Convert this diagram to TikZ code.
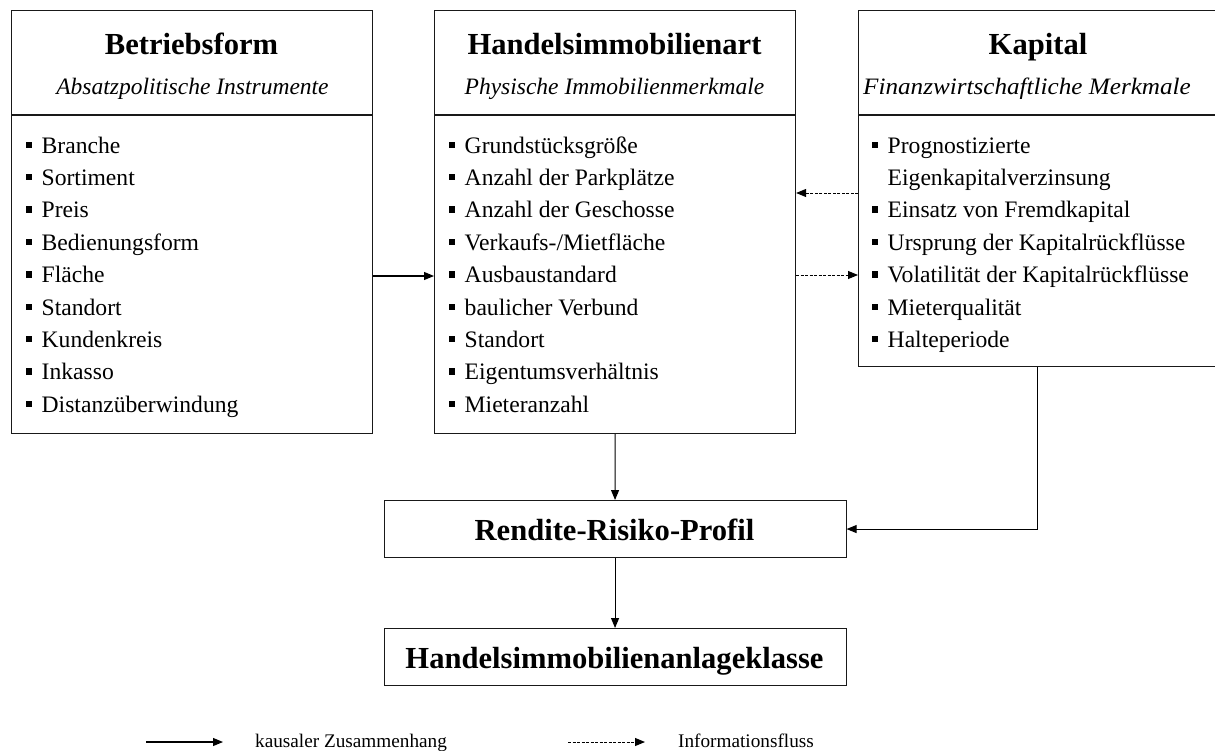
\documentclass[tikz,border=0pt]{standalone}
\usepackage{fontspec}
\setmainfont{Liberation Serif}
\usetikzlibrary{arrows.meta}
\newcommand{\sqb}{\rule[5bp]{6.5bp}{6.5bp}\hspace{9.5bp}}
\tikzset{
 frame/.style={draw=black!90, line width=1.1bp, inner sep=0, anchor=north west},
 divline/.style={draw=black!90, line width=1.1bp},
 ttl/.style={font=\fontsize{30.7}{36}\selectfont\bfseries, anchor=base, inner sep=0},
 sub/.style={font=\fontsize{23.6}{28}\selectfont\itshape, anchor=base, inner sep=0},
 itm/.style={font=\fontsize{23.7}{28}\selectfont, anchor=base west, inner sep=0},
 leg/.style={font=\fontsize{19.3}{23}\selectfont, anchor=base west, inner sep=0},
 causal/.style={line width=1.1bp, -{Triangle[length=10bp,width=8bp]}},
 info/.style={line width=1bp, dash pattern=on 3bp off 1.5bp, -{Triangle[length=10bp,width=8bp]}},
}
\begin{document}
\begin{tikzpicture}[x=1bp,y=-1bp]
\useasboundingbox (0,0) rectangle (1215,751);
% frames
\node[frame, minimum width=361bp, minimum height=423bp] (bf) at (11,10) {};
\node[frame, minimum width=361bp, minimum height=423bp] (ha) at (434,10) {};
\node[frame, minimum width=358bp, minimum height=356bp] (kap) at (858,10) {};
\node[frame, minimum width=462bp, minimum height=57bp] (rrp) at (383.5,500) {};
\node[frame, minimum width=462bp, minimum height=57bp] (hak) at (383.5,628) {};
% header dividers
\draw[divline] (bf.west |- 0,115) -- (bf.east |- 0,115);
\draw[divline] (ha.west |- 0,115) -- (ha.east |- 0,115);
\draw[divline] (kap.west |- 0,115) -- (kap.east |- 0,115);
% titles
\node[ttl] (bft) at (191.5,55) {Betriebsform};
\node[sub] (bfs) at (192.5,95) {Absatzpolitische Instrumente};
\node[ttl] (hat) at (614.5,55) {Handelsimmobilienart};
\node[sub] (has) at (614.5,95) {Physische Immobilienmerkmale};
\node[ttl] (kat) at (1038,55) {Kapital};
\node[sub] (kas) at (1027,95) {\scalebox{1.07}[1]{Finanzwirtschaftliche Merkmale}};
% items
\foreach \t [count=\i] in {Branche,Sortiment,Preis,Bedienungsform,Fläche,Standort,Kundenkreis,Inkasso,Distanzüberwindung}
  \node[itm] (bfi\i) at (25.5,{153+32.4*(\i-1)}) {\sqb\t};
\foreach \t [count=\i] in {Grundstücksgröße,Anzahl der Parkplätze,Anzahl der Geschosse,Verkaufs-/Mietfläche,Ausbaustandard,baulicher Verbund,Standort,Eigentumsverhältnis,Mieteranzahl}
  \node[itm] (hai\i) at (448.5,{153+32.4*(\i-1)}) {\sqb\t};
\node[itm] (kai1) at (871.5,153) {\sqb Prognostizierte};
\node[itm] (kai1b) at (887.5,185.4) {Eigenkapitalverzinsung};
\foreach \t [count=\i from 3] in {Einsatz von Fremdkapital,Ursprung der Kapitalrückflüsse,Volatilität der Kapitalrückflüsse,Mieterqualität,Halteperiode}
  \node[itm] (kai\i) at (871.5,{153+32.4*(\i-1)}) {\sqb\t};
% bottom box texts
\node[ttl] (rrpt) at (614.5,540) {Rendite-Risiko-Profil};
\node[ttl] (hakt) at (614.5,668) {Handelsimmobilienanlageklasse};
% connectors
\draw[causal] (bf.east |- 0,276) -- (ha.west |- 0,276);
\draw[info] (kap.west |- 0,193) -- (ha.east |- 0,193);
\draw[info] (ha.east |- 0,275) -- (kap.west |- 0,275);
\draw[causal] (ha.south) -- (rrp.north);
\draw[causal] (kap.south) |- (rrp.east);
\draw[causal] (rrp.south) -- (hak.north);
% legend
\coordinate (l1a) at (146,742);
\coordinate (l1b) at (223,742);
\coordinate (l2a) at (568,742);
\coordinate (l2b) at (645,742);
\draw[causal] (l1a) -- (l1b);
\draw[info] (l2a) -- (l2b);
\node[leg] (lt1) at (255,747) {kausaler Zusammenhang};
\node[leg] (lt2) at (678,747) {Informationsfluss};
\end{tikzpicture}
\end{document}
